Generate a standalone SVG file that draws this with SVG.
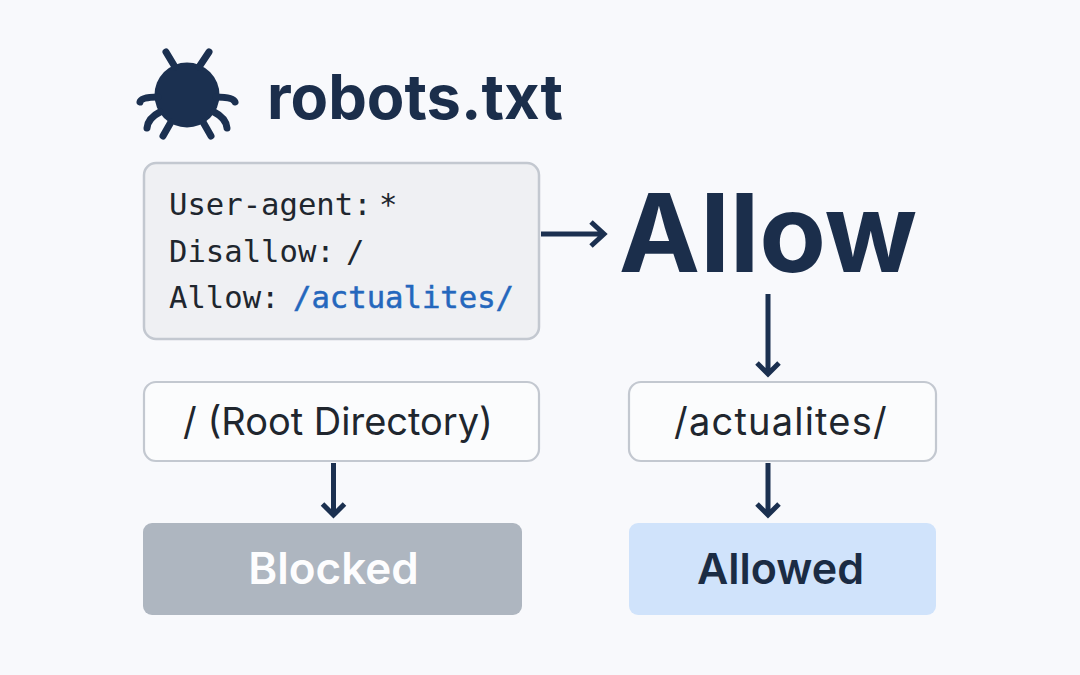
<svg xmlns="http://www.w3.org/2000/svg" width="1080" height="675" viewBox="0 0 1080 675">
<defs>
<style>
.mono{font-family:"DejaVu Sans Mono","Liberation Mono",monospace;font-size:30.6px;fill:#20262e}
.ui{font-family:Inter,"Noto Sans",sans-serif}
.conn{fill:none;stroke:#1b3050;stroke-width:5}
.leg{fill:none;stroke:#1b3050;stroke-width:7;stroke-linecap:round;stroke-linejoin:round}
.box{fill:#fbfcfd;stroke:#c3c8d0;stroke-width:2.2}
.label{font-size:38px;fill:#20262e;text-anchor:middle}
</style>
</defs>
<rect width="1080" height="675" fill="#f8f9fc"/>
<g id="bug">
<circle cx="187" cy="95" r="32.5" fill="#1b3050"/>
<path class="leg" d="M166 52L175 67M209 52L199 67M140 102Q141 97 158 97M235 102Q233 97 216 97M147 128Q148 118 160 112M227 128Q226 118 214 112M163 136L171 122M211 136L203 122"/>
</g>
<g id="title"><text class="ui" x="267" y="119" font-size="61.400" font-weight="700" fill="#1b2e4b">robots.txt</text></g>
<g id="rules">
<rect x="144" y="163" width="395" height="176" rx="12" fill="#eff0f3" stroke="#c3c8d0" stroke-width="2.5"/>
<text class="mono" x="169" y="215">User-agent:</text>
<text class="mono" x="379" y="215">*</text>
<text class="mono" x="169" y="262">Disallow:</text>
<text class="mono" x="346" y="262">/</text>
<text class="mono" x="169" y="308">Allow:</text>
<text class="mono" x="293" y="308" style="fill:#2467bd;stroke:#2467bd;stroke-width:0.5">/actualites/</text>
</g>
<g id="allow-word"><text class="ui" x="768" y="272" font-size="109" font-weight="700" fill="#1b2e4b" text-anchor="middle">Allow</text></g>
<g id="root">
<rect class="box" x="144" y="382" width="395" height="79" rx="12"/>
<text class="ui label" x="338" y="435">/ (Root Directory)</text>
</g>
<g id="actualites">
<rect class="box" x="629" y="382" width="307" height="79" rx="12"/>
<text class="ui label" x="781" y="435" letter-spacing="1.2">/actualites/</text>
</g>
<g id="blocked">
<rect x="143" y="523" width="379" height="92" rx="9" fill="#aeb6c0"/>
<text class="ui" x="333.500" y="584" font-size="44" font-weight="600" fill="#fdfdfe" text-anchor="middle">Blocked</text>
</g>
<g id="allowed">
<rect x="629" y="523" width="307" height="92" rx="9" fill="#d0e3fb"/>
<text class="ui" x="780.500" y="584" font-size="43" font-weight="600" fill="#1b2c44" text-anchor="middle">Allowed</text>
</g>
<g id="connectors">
<path class="conn" d="M541 234H603M591 222L604 234L591 246"/>
<path class="conn" d="M768 294V374M757 363L768 374L779 363"/>
<path class="conn" d="M768 463V515M757 504L768 515L779 504"/>
<path class="conn" d="M333.500 463V515M322.500 504L333.500 515L344.500 504"/>
</g>
</svg>
